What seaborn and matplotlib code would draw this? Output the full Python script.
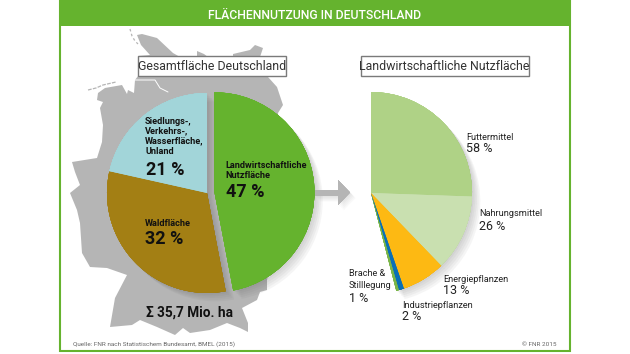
import matplotlib
matplotlib.use("Agg")
import matplotlib.pyplot as plt
import matplotlib.patheffects as pe
from matplotlib.patches import Polygon, Rectangle
import seaborn as sns

sns.set_theme(style="white")
plt.rcParams['font.family'] = ['Roboto', 'DejaVu Sans']

# --- data ---
gesamt_shares = [47, 31.5, 21.5]
gesamt_colors = ["#65B32E", "#A37F14", "#A2D5D9"]

# slices as drawn; they only cover the left pie's green part of a full circle
nutz_shares = [92, 44, 25, 3, 1.5]
nutz_rest = 194.5
nutz_colors = ["#AFD286", "#C9E0B0", "#FDB913", "#0A6FB7", "#7AB648"]

GREEN = "#65B32E"
MAP_GREY = "#B5B5B5"
W, H = 630, 354

# rough outline of Germany, pixel coordinates
germany = [(137, 35), (142, 34), (157, 38), (173, 53), (180, 57), (197, 57), (197, 51), (204, 54),
           (208, 57), (233, 57), (233, 54), (250, 50), (255, 45), (263, 48), (260, 57), (268, 77),
           (277, 87), (283, 105), (278, 113), (285, 200), (267, 280), (267, 290), (260, 292),
           (257, 300), (242, 308), (248, 323), (248, 332), (240, 328), (227, 323), (210, 330),
           (190, 333), (183, 328), (175, 335), (157, 327), (140, 320), (132, 325), (110, 327),
           (115, 298), (127, 275), (107, 268), (90, 267), (82, 253), (80, 223), (77, 210), (70, 193),
           (80, 185), (75, 172), (72, 162), (97, 158), (102, 142), (103, 125), (100, 108), (103, 102),
           (97, 100), (98, 93), (105, 88), (122, 85), (127, 94), (128, 90), (134, 93), (135, 80),
           (138, 76), (138, 56), (150, 55), (141, 45)]
arrow = [(315, 190), (338, 190), (338, 180), (350, 192.5), (338, 205), (338, 196), (315, 196)]


def py(y):
    # picture y (from top) to axes y
    return H - y


def shadow_effects(dx, dy, alpha=0.055):
    return [pe.withSimplePatchShadow(offset=(dx * k, -dy * k), shadow_rgbFace="#555555", alpha=alpha)
            for k in (0.4, 0.8, 1.2, 1.6, 2.0)]


def draw_pie(ax, values, colors, center, radius, explode=None, hide_last=False):
    # first pass only gives the soft shadow, second pass the clean slices
    for z, effects in ((2, shadow_effects(3, 3)), (3, None)):
        wedges, _ = ax.pie(values, colors=colors, center=center, radius=radius, startangle=90,
                           counterclock=False, explode=explode, frame=True,
                           wedgeprops={"linewidth": 0})
        for w in wedges:
            w.set_zorder(z)
            if effects:
                w.set_path_effects(effects)
        if hide_last:
            wedges[-1].set_visible(False)


fig = plt.figure(figsize=(W / 100, H / 100), dpi=100)
ax = fig.add_axes([0, 0, 1, 1])

# map + frame
ax.add_patch(Polygon([(x, py(y)) for x, y in germany], closed=True, fc=MAP_GREY, ec="none", zorder=1))
ax.plot([135, 155, 160, 168], [py(80), py(80), py(88), py(92)], color="white", lw=0.7, zorder=1.1)
ax.plot([88, 96, 103, 116], [py(90), py(88), py(85), py(82)], color=MAP_GREY, lw=0.9, ls=(0, (3, 1)), zorder=1)
ax.plot([130, 132, 135, 138], [py(29), py(36), py(41), py(44)], color=MAP_GREY, lw=0.9, ls=(0, (2, 2)), zorder=1)

ax.add_patch(Rectangle((59.5, py(350.5)), 510, 350.5, fc="none", ec=GREEN, lw=1.5, zorder=6))
ax.add_patch(Rectangle((59, py(26)), 511, 26, fc=GREEN, ec="none", zorder=6))
ax.text(315, py(15.5), "FLÄCHENNUTZUNG IN DEUTSCHLAND", color="white", fontsize=8.8, weight="medium",
        ha="center", va="center", zorder=7)

# pies (explode is in data units here since the radius is in pixels)
draw_pie(ax, gesamt_shares, gesamt_colors, (207, py(193)), 100, explode=[7.5, 0, 0])
draw_pie(ax, nutz_shares + [nutz_rest], nutz_colors + ["white"], (371, py(193)), 101, hide_last=True)

# arrow between the pies
ax.add_patch(Polygon([(x, py(y)) for x, y in arrow], closed=True, fc=MAP_GREY, ec="none", zorder=2,
                     path_effects=shadow_effects(2, 2, 0.03) + [pe.Normal()]))

# boxed headings
for x0, x1, txt in [(138, 286, "Gesamtfläche Deutschland"), (360.5, 528.5, "Landwirtschaftliche Nutzfläche")]:
    ax.add_patch(Rectangle((x0, py(76)), x1 - x0, 20, fc="white", ec="#7A7A7A", lw=1, zorder=4))
    ax.text((x0 + x1) / 2, py(66), txt, fontsize=8.9, color="#333333", ha="center", va="center", zorder=5)

# left pie labels
bold = dict(color="#111111", weight="bold", ha="left", va="center", zorder=5)
for y, txt in [(121, "Siedlungs-,"), (131, "Verkehrs-,"), (141, "Wasserfläche,"), (152, "Unland"),
               (166, "Landwirtschaftliche"), (176, "Nutzfläche"), (224, "Waldfläche")]:
    x = 225 if txt in ("Landwirtschaftliche", "Nutzfläche") else 145
    ax.text(x, py(y), txt, fontsize=6.6, **bold)
for x, y, txt in [(146, 170, "21 %"), (226, 192, "47 %"), (145, 239, "32 %")]:
    ax.text(x, py(y), txt, fontsize=13, **bold)
ax.text(146, py(313), "Σ 35,7 Mio. ha", fontsize=9.8, **bold)

# right pie labels
reg = dict(color="#222222", ha="left", va="center", zorder=5)
for x, y, name, val_y, val in [(466, 137, "Futtermittel", 149, "58 %"),
                               (479, 214, "Nahrungsmittel", 227, "26 %"),
                               (443, 279, "Energiepflanzen", 291, "13 %"),
                               (402, 305, "Industriepflanzen", 316, "2 %"),
                               (349, 274, "Brache &\nStilllegung", 298, "1 %")]:
    if "\n" in name:
        first, second = name.split("\n")
        ax.text(x, py(y), first, fontsize=6.6, **reg)
        ax.text(x, py(y + 12), second, fontsize=6.6, **reg)
    else:
        ax.text(x, py(y), name, fontsize=6.6, **reg)
    ax.text(x, py(val_y), val, fontsize=9, **reg)

# source lines
small = dict(color="#666666", fontsize=4.6, va="center", zorder=5)
ax.text(73, py(344), "Quelle: FNR nach Statistischem Bundesamt, BMEL (2015)", ha="left", **small)
ax.text(556, py(344), "© FNR 2015", ha="right", **small)

ax.set_xlim(0, W)
ax.set_ylim(0, H)
ax.set_aspect("auto")
ax.axis("off")
fig.savefig("out.png", dpi=100)
